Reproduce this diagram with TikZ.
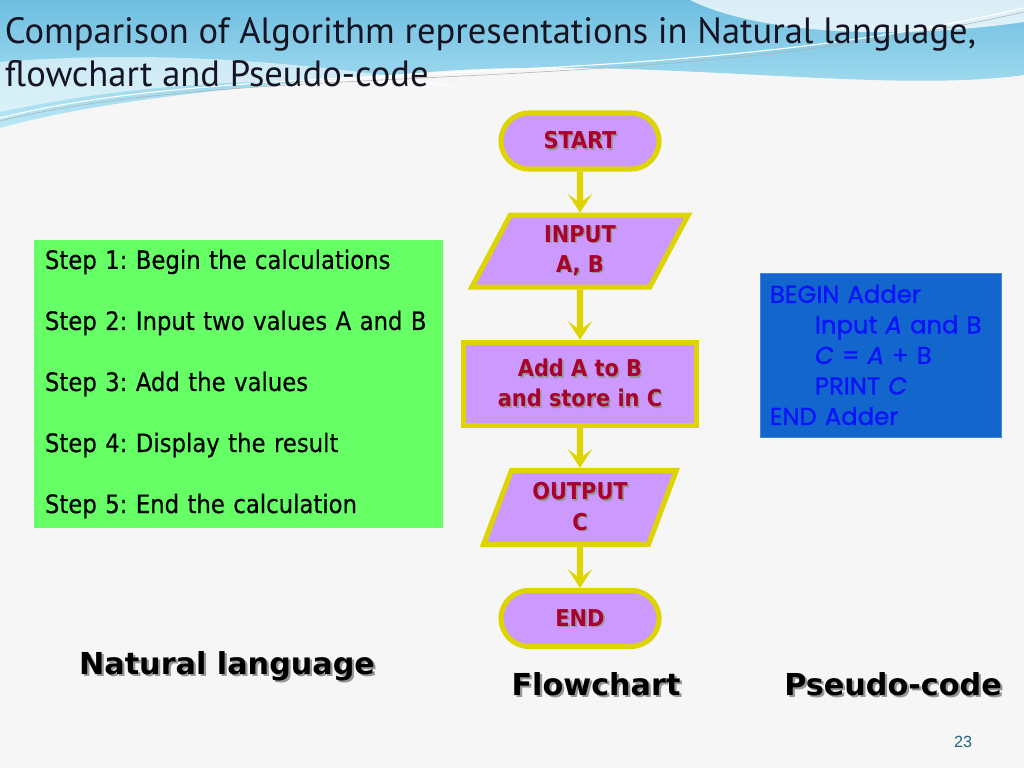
\documentclass[tikz,border=0pt]{standalone}
\usepackage{fontspec}
\setmainfont{PT Sans}
\newfontfamily\stepfont{DejaVu Sans Condensed}
\newfontfamily\steptext{DejaVu Sans Condensed}[FakeBold=0.5]
\newfontfamily\capfont{DejaVu Sans}
\newfontfamily\codefont{Poppins}[FakeBold=1.2]
\newfontfamily\numfont{Liberation Sans}
\usetikzlibrary{shapes.geometric, arrows.meta, positioning, calc}
\definecolor{bgpaper}{RGB}{246,246,246}
\definecolor{swooshblue}{RGB}{110,190,225}
\definecolor{swooshlight}{RGB}{185,232,245}
\definecolor{titleink}{RGB}{20,20,35}
\definecolor{fcyellow}{RGB}{222,212,0}
\definecolor{fcpurple}{RGB}{204,153,255}
\definecolor{fcred}{RGB}{170,0,45}
\definecolor{stepgreen}{RGB}{102,255,102}
\definecolor{codebox}{RGB}{18,102,204}
\definecolor{codeink}{RGB}{10,20,250}
\definecolor{pagenum}{RGB}{30,100,125}
\definecolor{shadowgray}{RGB}{150,150,150}
% text with a small drop shadow
\newcommand{\dropsh}[2][1.1pt]{\leavevmode\rlap{\hspace*{#1}\raisebox{-#1}{\textcolor{shadowgray}{#2}}}#2}

\begin{document}
\frenchspacing
\begin{tikzpicture}[x=0.025cm, y=-0.025cm, node distance=1cm,
  term/.style={rectangle, rounded corners=0.7cm, draw=fcyellow, fill=fcpurple, line width=3.6pt, minimum width=3.95cm, minimum height=1.4cm, align=center, font=\stepfont\bfseries\fontsize{16.5}{21.5}\selectfont, text=fcred},
  io/.style={trapezium, trapezium left angle=70, trapezium right angle=110, trapezium stretches=true, draw=fcyellow, fill=fcpurple, line width=3.6pt, align=center, font=\stepfont\bfseries\fontsize{16.5}{21.5}\selectfont, text=fcred},
  proc/.style={rectangle, draw=fcyellow, fill=fcpurple, line width=3.6pt, minimum width=5.825cm, minimum height=2.075cm, align=center, font=\stepfont\bfseries\fontsize{16.5}{21.5}\selectfont, text=fcred},
  stepbox/.style={rectangle, fill=stepgreen, minimum width=10.225cm, minimum height=7.2cm, text width=9.675cm, inner xsep=0.275cm, align=left, font=\steptext\fontsize{18}{43.4}\selectfont},
  codebox/.style={rectangle, fill=codebox, draw=codebox!80!white, line width=0.6pt, minimum width=6.025cm, minimum height=4.1cm, text width=5.525cm, inner xsep=0.25cm, align=left, text=codeink, font=\codefont\fontsize{17.3}{21.7}\selectfont},
  caption/.style={font=\capfont\bfseries\fontsize{21.5}{25}\selectfont},
  arr/.style={-{Stealth[length=4.6mm, width=6mm, inset=2.2mm]}, line width=4.3pt, draw=fcyellow}
]
\useasboundingbox (0,0) rectangle (1024,768);
% background and title swooshes
\fill[bgpaper] (0,0) rectangle (1024,768);
\shade[top color=swooshblue, bottom color=swooshlight]
  (0,0) -- (1024,0) -- (1024,75) .. controls (880,95) and (640,55) .. (430,72)
  .. controls (250,85) and (100,100) .. (0,128) -- cycle;
\fill[white, opacity=0.75] (690,0) .. controls (760,35) and (900,40) .. (1024,22) -- (1024,0) -- cycle;
\fill[white, opacity=0.55] (0,62) .. controls (150,50) and (300,60) .. (470,88)
  .. controls (300,75) and (150,80) .. (0,112) -- cycle;
\draw[white, line width=0.8pt] (0,118) .. controls (250,55) and (650,95) .. (1024,8);
\draw[gray!60, line width=0.4pt] (0,121) .. controls (250,60) and (650,98) .. (1024,12);
\node[anchor=north west, align=left, text=titleink, font=\fontsize{26}{30}\selectfont] (title) at (0,13)
  {Comparison of Algorithm representations in Natural language,\\flowchart and Pseudo-code};
% natural language
\node[stepbox] (steps) at (238.5,384) {Step 1: Begin the calculations\\
Step 2: Input two values A and B\\
Step 3: Add the values\\
Step 4: Display the result\\
Step 5: End the calculation};
% flowchart
\node[term] (start) at (580,141) {\dropsh{START}};
\node[io, minimum width=5.45cm, minimum height=1.8cm, below=1.025cm of start] (input) {\dropsh{INPUT}\\\dropsh{A, B}};
\node[proc, below=1.25cm of input] (add) {\dropsh{Add A to B}\\\dropsh{and store in C}};
\node[io, minimum width=4.825cm, minimum height=1.85cm, below=1cm of add] (output) {\dropsh{OUTPUT}\\\dropsh{C}};
\node[term, below=1.025cm of output] (end) {\dropsh{END}};
\draw[arr] (start) -- (input);
\draw[arr] (input) -- (add);
\draw[arr] (add) -- (output);
\draw[arr] (output) -- (end);
% pseudo-code
\node[codebox] (code) at (880.5,355) {BEGIN Adder\\
\hspace*{1.125cm}Input \textit{A} and B\\
\hspace*{1.125cm}\textit{C} = \textit{A} + B\\
\hspace*{1.125cm}PRINT \textit{C}\\
END Adder};
% captions
\node[caption] (natcap) at (227,667) {\dropsh[1.6pt]{Natural language}};
\node[caption] (flowcap) at (596,685) {\dropsh[1.6pt]{Flowchart}};
\node[caption] (codecap) at (893,685) {\dropsh[1.6pt]{Pseudo-code}};
\node[text=pagenum, font=\numfont\fontsize{11.5}{14}\selectfont] (page) at (963,742) {23};
\end{tikzpicture}
\end{document}
